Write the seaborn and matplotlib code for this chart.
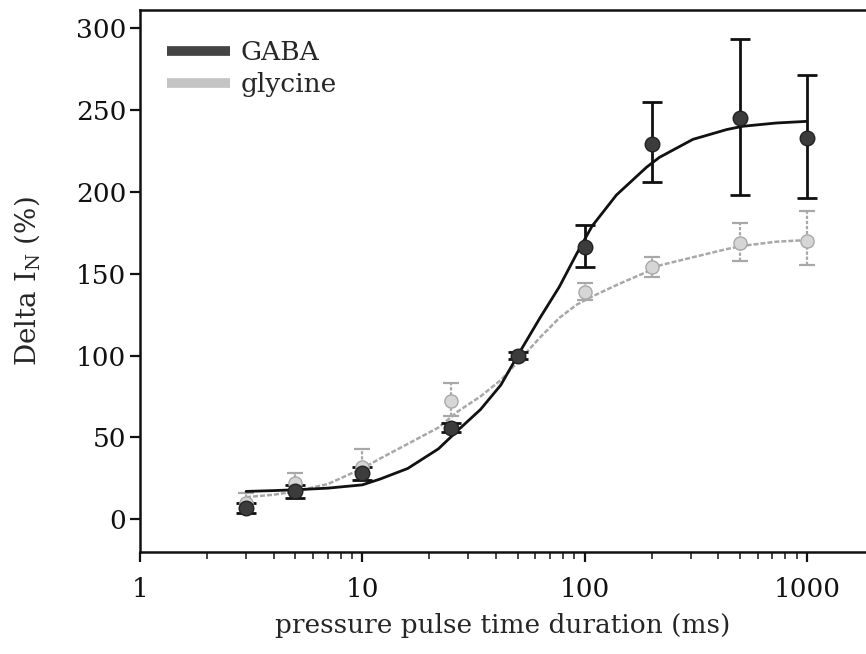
import numpy as np
import pandas as pd
import matplotlib
matplotlib.use("Agg")
import matplotlib.pyplot as plt
import seaborn as sns

# Pulse durations (ms) and normalised responses (%)
durations = [3, 5, 10, 25, 50, 100, 200, 500, 1000]
gaba_mean = [7, 17, 28, 56, 100, 166, 229, 245, 233]
gaba_err_hi = [3, 4, 4, 3, 2, 14, 26, 48, 38]
gaba_err_lo = [3, 4, 4, 3, 2, 12, 23, 47, 37]
gly_mean = [10, 22, 32, 72, 100, 139, 154, 169, 170]
gly_err_hi = [6, 6, 11, 11, 2, 5, 6, 12, 18]
gly_err_lo = [6, 6, 8, 9, 2, 5, 6, 11, 15]

# Fitted dose-response curves, sampled along the duration axis
fit_x = [3, 4, 5, 7, 10, 12, 16, 22, 27, 34, 42, 50, 63, 77, 92, 108,
         139, 190, 217, 307, 436, 515, 730, 1000]
gaba_fit = [17, 17.5, 18, 19, 21, 24.5, 31, 43, 54.5, 67, 82, 100, 123,
            142, 162, 179, 198, 215, 221, 232, 238, 240, 242, 243]
gly_fit = [13.5, 15, 17, 21.5, 31, 37, 46, 56, 66, 75, 85, 96, 111, 123,
           131, 136, 143, 151, 155, 160, 165, 167, 169.5, 170.5]

sns.set_theme(style="ticks")
plt.rcParams["font.family"] = ["DejaVu Serif"]
plt.rcParams["mathtext.fontset"] = "dejavuserif"

fig = plt.figure(figsize=(8.66, 6.54), dpi=100)
ax = fig.add_axes([140 / 866, 1 - 552 / 654, 1 - 140 / 866, (552 - 10) / 654])

fits = pd.DataFrame({"x": fit_x, "GABA": gaba_fit, "glycine": gly_fit})
pts = pd.DataFrame({"x": durations, "GABA": gaba_mean, "glycine": gly_mean})

gaba_col = "#111111"
gly_col = "#a8a8a8"

# error bars
ax.errorbar(durations, gaba_mean, yerr=[gaba_err_lo, gaba_err_hi], fmt="none",
            ecolor=gaba_col, elinewidth=2.0, capsize=7, capthick=2.0, zorder=3)
eb = ax.errorbar(durations, gly_mean, yerr=[gly_err_lo, gly_err_hi], fmt="none",
                 ecolor=gly_col, elinewidth=1.6, capsize=6, capthick=1.6, zorder=2)
for c in eb[2]:
    c.set_linestyle((0, (1.5, 0.8)))

# fitted curves
sns.lineplot(data=fits, x="x", y="GABA", ax=ax, color=gaba_col, lw=2.0,
             label="GABA", zorder=4)
sns.lineplot(data=fits, x="x", y="glycine", ax=ax, color=gly_col, lw=1.8,
             linestyle=(0, (2, 0.8)), label="glycine", zorder=2)

# data markers
sns.scatterplot(data=pts, x="x", y="GABA", ax=ax, marker="o", s=110,
                color="#3c3c3c", edgecolor="#222222", linewidth=1.0, zorder=5,
                legend=False)
sns.scatterplot(data=pts, x="x", y="glycine", ax=ax, marker="o", s=90,
                color="#d6d6d6", edgecolor="#a8a8a8", linewidth=1.0, zorder=4,
                legend=False)

ax.set_xscale("log")
ax.set_xlim(1, 10 ** ((866 - 141) / 222))
ax.set_ylim(-20, 311)
ax.set_yticks([0, 50, 100, 150, 200, 250, 300])
ax.set_xticks([1, 10, 100, 1000])
ax.set_xticklabels(["1", "10", "100", "1000"])

for side in ["left", "bottom", "top"]:
    ax.spines[side].set_linewidth(1.8)
    ax.spines[side].set_color("#111111")
ax.spines["right"].set_visible(False)

ax.tick_params(axis="both", which="major", direction="out", length=7, width=1.6,
               labelsize=19, colors="#111111")
ax.tick_params(axis="y", which="major", pad=3)
ax.tick_params(axis="x", which="major", pad=11)
ax.tick_params(axis="x", which="minor", direction="out", length=5, width=1.2)
ax.tick_params(axis="y", which="minor", left=False)

ax.set_xlabel("pressure pulse time duration (ms)", fontsize=19, labelpad=8)
ax.set_ylabel("Delta I$_\\mathrm{N}$ (%)", fontsize=20, labelpad=24)

leg = ax.legend(loc="upper left", frameon=False, fontsize=19, handlelength=2.4,
                handletextpad=0.4, borderaxespad=0.4, labelspacing=0.25,
                bbox_to_anchor=(0.008, 0.983))
for h in leg.get_lines():
    h.set_linewidth(7)
    h.set_linestyle("-")
    h.set_solid_capstyle("butt")
leg.get_lines()[0].set_color("#444444")
leg.get_lines()[1].set_color("#c4c4c4")

fig.savefig("out.png", dpi=100)
